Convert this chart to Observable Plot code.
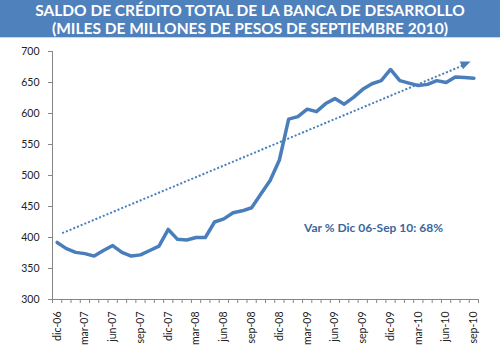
<!DOCTYPE html>
<html>
<head>
<meta charset="utf-8">
<script src="https://cdn.jsdelivr.net/npm/d3@7"></script>
<script src="https://cdn.jsdelivr.net/npm/@observablehq/plot@0.6"></script>
<style>
  html, body { margin: 0; padding: 0; background: #fff; }
  #wrap { width: 500px; height: 363px; overflow: hidden; font-family: Lato, "Open Sans", sans-serif; }
  #title { height: 38px; background: #4f81bd; color: #fff; font-weight: bold; font-size: 15.5px;
           text-align: center; line-height: 18px; padding-top: 1px; box-sizing: border-box;
           border-bottom: 1px solid #c9d7ea; }
</style>
</head>
<body>
<div id="wrap">
  <div id="title">SALDO DE CRÉDITO TOTAL DE LA BANCA DE DESARROLLO<br>(MILES DE MILLONES DE PESOS DE SEPTIEMBRE 2010)</div>
  <div id="chart"></div>
</div>
<script>
const months = [
  "dic-06","ene-07","feb-07","mar-07","abr-07","may-07","jun-07","jul-07","ago-07","sep-07","oct-07","nov-07",
  "dic-07","ene-08","feb-08","mar-08","abr-08","may-08","jun-08","jul-08","ago-08","sep-08","oct-08","nov-08",
  "dic-08","ene-09","feb-09","mar-09","abr-09","may-09","jun-09","jul-09","ago-09","sep-09","oct-09","nov-09",
  "dic-09","ene-10","feb-10","mar-10","abr-10","may-10","jun-10","jul-10","ago-10","sep-10"
];
const saldo = [
  392, 382, 376, 374, 370, 379, 387, 376, 370, 372,
  379, 386, 413, 397, 396, 400, 400, 425, 430, 440,
  443, 448, 470, 492, 525, 591, 595, 607, 603, 616,
  624, 615, 626, 639, 648, 653, 671, 653, 649, 645,
  647, 653, 650, 659, 658, 657
];
const yTicks = [300, 350, 400, 450, 500, 550, 600, 650, 700];
const labelEvery = 3;
const trendStart = {i: 0.55, v: 407};
const trendEnd = {i: 44.7, v: 683};
const annotation = "Var % Dic 06-Sep 10: 68%";

const data = saldo.map((v, i) => ({i, v, m: months[i]}));
const labelIdx = months.map((_, i) => i).filter(i => i % labelEvery === 0);
const boundaries = d3.range(-0.5, months.length, 1);

const blue = "#4a7ebb";
const axisGray = "#868686";

// Filled arrow head at the end of the trend line, placed through the plot's scales
function arrowHead(index, scales) {
  const x1 = scales.x(trendStart.i), y1 = scales.y(trendStart.v);
  const x2 = scales.x(trendEnd.i), y2 = scales.y(trendEnd.v);
  const len = Math.hypot(x2 - x1, y2 - y1);
  const ux = (x2 - x1) / len, uy = (y2 - y1) / len;
  const L = 10, W = 4.2;
  const bx = x2 - ux * L, by = y2 - uy * L;
  const p = [[x2, y2], [bx - uy * W, by + ux * W], [bx + uy * W, by - ux * W]];
  const path = d3.create("svg:path")
    .attr("d", "M" + p.map(q => q.join(",")).join("L") + "Z")
    .attr("fill", blue);
  return path.node();
}

const plot = Plot.plot({
  width: 500,
  height: 325,
  marginTop: 13,
  marginBottom: 64,
  marginLeft: 52,
  marginRight: 22,
  style: {fontFamily: "Lato, 'Open Sans', sans-serif", fontSize: "10.5px", color: "#222", background: "#fff"},
  x: {type: "linear", domain: [-0.5, months.length - 0.5]},
  y: {domain: [300, 700]},
  marks: [
    Plot.axisY({ticks: yTicks, tickSize: 4, tickPadding: 9, stroke: axisGray, label: null, tickFormat: d => d}),
    Plot.axisX({ticks: boundaries, tickSize: 4, stroke: axisGray, tickFormat: () => "", label: null}),
    Plot.axisX({ticks: labelIdx, tickSize: 0, tickPadding: 12, tickRotate: -90, label: null,
                tickFormat: i => months[i]}),
    Plot.ruleX([-0.5], {stroke: axisGray}),
    Plot.ruleY([300], {stroke: axisGray}),
    Plot.line([trendStart, {i: trendStart.i + (trendEnd.i - trendStart.i) * 0.98, v: trendStart.v + (trendEnd.v - trendStart.v) * 0.98}],
              {x: "i", y: "v", stroke: blue, strokeWidth: 2, strokeDasharray: "2,2", strokeLinecap: "butt"}),
    arrowHead,
    Plot.line(data, {x: "i", y: "v", stroke: blue, strokeWidth: 3.5, strokeLinejoin: "round", strokeLinecap: "round"}),
    Plot.text([annotation], {frameAnchor: "top-left", dx: 321, dy: 172, text: d => d, fill: "#3a66a0",
                             fontWeight: "bold", fontSize: 12, textAnchor: "middle"})
  ]
});
document.getElementById("chart").appendChild(plot);
</script>
</body>
</html>
